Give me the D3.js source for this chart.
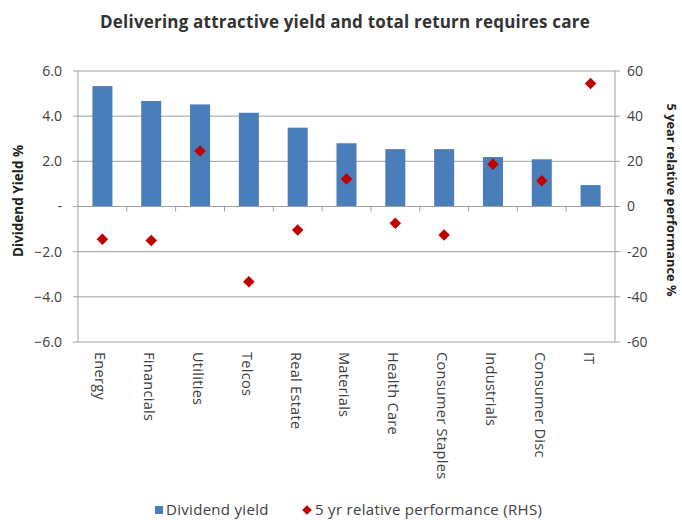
<!DOCTYPE html>
<html>
<head>
<meta charset="utf-8">
<script src="https://d3js.org/d3.v7.min.js"></script>
<style>
  body { margin: 0; background: #fff; }
  text { font-family: "Open Sans", "Noto Sans", sans-serif; }
</style>
</head>
<body>
<div id="chart"></div>
<script>
// chart data
const sectors = ["Energy", "Financials", "Utilities", "Telcos", "Real Estate", "Materials",
  "Health Care", "Consumer Staples", "Industrials", "Consumer Disc", "IT"];
const dividendYield = [5.33, 4.67, 4.52, 4.15, 3.49, 2.80, 2.54, 2.54, 2.19, 2.09, 0.95];
const relPerf = [-14.5, -15.1, 24.6, -33.3, -10.4, 12.2, -7.4, -12.6, 18.7, 11.4, 54.5];
const leftTicks = [6, 4, 2, 0, -2, -4, -6];
const rightTicks = [60, 40, 20, 0, -20, -40, -60];

const width = 682, height = 520;
const plotL = 78, plotR = 615, plotT = 71, plotB = 342;

const svg = d3.select("#chart").append("svg")
  .attr("width", width).attr("height", height);

const x = d3.scaleBand().domain(sectors).range([plotL, plotR]).paddingInner(0.59).paddingOuter(0.295);
const xb = d3.scaleBand().domain(sectors).range([plotL, plotR]);
const yL = d3.scaleLinear().domain([-6, 6]).range([plotB, plotT]);
const yR = d3.scaleLinear().domain([-60, 60]).range([plotB, plotT]);

const gridColor = "#a0a0a0";
const labelColor = "#404040";

// gridlines
svg.append("g").selectAll("line").data(leftTicks).join("line")
  .attr("x1", plotL - 5).attr("x2", plotR + 5)
  .attr("y1", d => yL(d)).attr("y2", d => yL(d))
  .attr("stroke", gridColor).attr("stroke-width", 1);

// axis lines
svg.append("line").attr("x1", plotL).attr("x2", plotL).attr("y1", plotT).attr("y2", plotB)
  .attr("stroke", gridColor);
svg.append("line").attr("x1", plotR).attr("x2", plotR).attr("y1", plotT).attr("y2", plotB)
  .attr("stroke", gridColor);

// bars
svg.append("g").selectAll("rect").data(sectors).join("rect")
  .attr("x", d => x(d))
  .attr("width", x.bandwidth())
  .attr("y", (d, i) => yL(Math.max(0, dividendYield[i])))
  .attr("height", (d, i) => Math.abs(yL(dividendYield[i]) - yL(0)))
  .attr("fill", "#4a7ebb");

// zero line with category ticks
svg.append("line").attr("x1", plotL).attr("x2", plotR).attr("y1", yL(0)).attr("y2", yL(0))
  .attr("stroke", gridColor);
svg.append("g").selectAll("line").data(sectors.slice(1)).join("line")
  .attr("x1", d => xb(d)).attr("x2", d => xb(d))
  .attr("y1", yL(0)).attr("y2", yL(0) + 5)
  .attr("stroke", gridColor);

// diamonds
const diamond = d3.symbol().type(d3.symbolDiamond2).size(85);
svg.append("g").selectAll("path").data(sectors).join("path")
  .attr("d", diamond)
  .attr("transform", (d, i) => `translate(${x(d) + x.bandwidth() / 2},${yR(relPerf[i])})`)
  .attr("fill", "#c00000");

// left tick labels
svg.append("g").selectAll("text").data(leftTicks).join("text")
  .attr("x", 62).attr("y", d => yL(d)).attr("dy", "0.35em")
  .attr("text-anchor", "end").attr("font-size", 14).attr("fill", labelColor)
  .text(d => d === 0 ? "-" : d3.format(".1f")(d));

// right tick labels
svg.append("g").selectAll("text").data(rightTicks).join("text")
  .attr("x", 627).attr("y", d => yR(d)).attr("dy", "0.35em")
  .attr("text-anchor", "start").attr("font-size", 14).attr("fill", labelColor)
  .text(d => d);

// category labels (rotated)
svg.append("g").selectAll("text").data(sectors).join("text")
  .attr("transform", d => `translate(${x(d) + x.bandwidth() / 2 - 2},352) rotate(90)`)
  .attr("dy", "0.35em").attr("font-size", 14.5).attr("fill", labelColor)
  .attr("letter-spacing", 0.3)
  .text(d => d);

// title
svg.append("text").attr("x", 345).attr("y", 28).attr("text-anchor", "middle")
  .attr("font-size", 17).attr("font-weight", "bold").attr("fill", "#333")
  .attr("letter-spacing", 0.2)
  .text("Delivering attractive yield and total return requires care");

// axis titles
svg.append("text").attr("transform", "translate(23,201) rotate(-90)")
  .attr("text-anchor", "middle").attr("font-size", 13.5).attr("font-weight", "bold").attr("fill", "#222")
  .text("Dividend Yield %");
svg.append("text").attr("transform", "translate(667,200) rotate(90)")
  .attr("text-anchor", "middle").attr("font-size", 12.8).attr("font-weight", "bold").attr("fill", "#222")
  .text("5 year relative performance %");

// legend
const lg = svg.append("g").attr("transform", "translate(0,510)");
lg.append("rect").attr("x", 155).attr("y", -4).attr("width", 8).attr("height", 8).attr("fill", "#4a7ebb");
lg.append("text").attr("x", 166).attr("dy", "0.35em").attr("font-size", 15).attr("fill", labelColor)
  .attr("letter-spacing", 0.3)
  .text("Dividend yield");
lg.append("path").attr("d", d3.symbol().type(d3.symbolDiamond2).size(60))
  .attr("transform", "translate(307,0)").attr("fill", "#c00000");
lg.append("text").attr("x", 315).attr("dy", "0.35em").attr("font-size", 15).attr("fill", labelColor)
  .attr("letter-spacing", 0.3)
  .text("5 yr relative performance (RHS)");
</script>
</body>
</html>
